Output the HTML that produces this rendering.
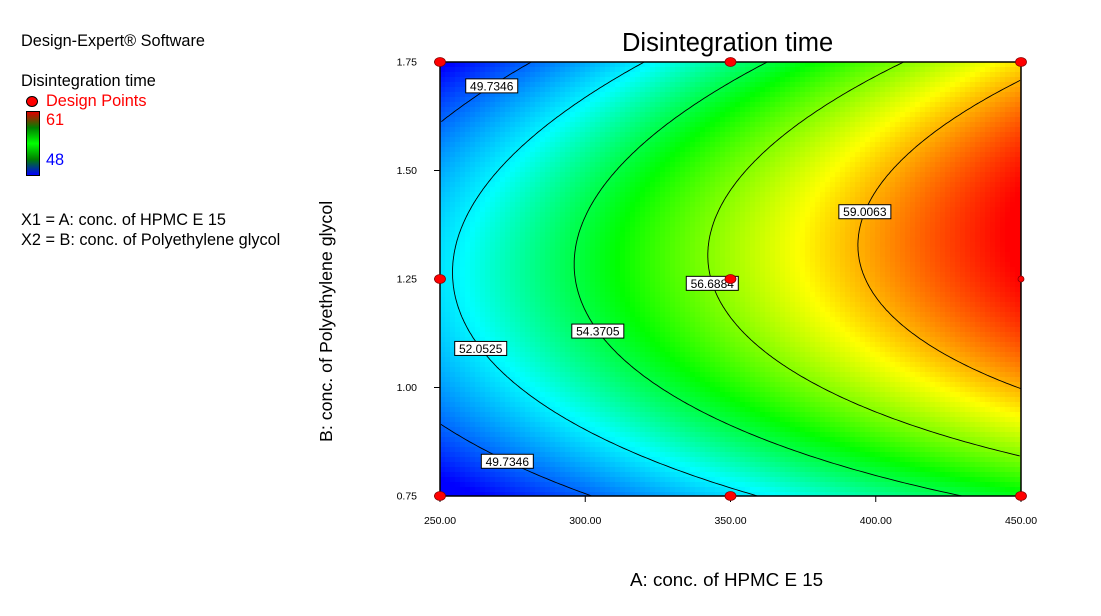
<!DOCTYPE html>
<html><head><meta charset="utf-8">
<style>
body{margin:0;background:#fff;font-family:"Liberation Sans",sans-serif;}
#wrap{position:relative;width:1101px;height:616px;overflow:hidden;}
.t{position:absolute;white-space:nowrap;color:#000;}
</style></head>
<body>
<div id="wrap">
<div class="t" style="left:21px;top:32px;font-size:16.3px;">Design-Expert® Software</div>
<div class="t" style="left:21px;top:72px;font-size:16.3px;">Disintegration time</div>
<div style="position:absolute;left:26px;top:96px;width:10px;height:9px;border-radius:50%;background:#f00;border:1px solid #000;"></div>
<div class="t" style="left:46px;top:92px;font-size:16.3px;color:#f00;">Design Points</div>
<div style="position:absolute;left:26px;top:111px;width:12px;height:63px;border:1px solid #000;background:linear-gradient(#e00000,#008000 25%,#00ff00 50%,#008000 75%,#0000ff);"></div>
<div class="t" style="left:46px;top:111px;font-size:16.3px;color:#f00;">61</div>
<div class="t" style="left:46px;top:151px;font-size:16.3px;color:#00f;">48</div>
<div class="t" style="left:21px;top:211px;font-size:16.3px;">X1 = A: conc. of HPMC E 15</div>
<div class="t" style="left:21px;top:231px;font-size:16.3px;">X2 = B: conc. of Polyethylene glycol</div>
<div class="t" style="left:622px;top:29px;font-size:25.5px;">Disintegration time</div>
<div class="t" style="left:630px;top:569px;font-size:18.8px;">A: conc. of HPMC E 15</div>
<div class="t" style="left:316px;top:442px;font-size:17.8px;transform-origin:0 0;transform:rotate(-90deg);">B: conc. of Polyethylene glycol</div>
<canvas id="cv" width="581" height="434" style="position:absolute;left:440px;top:62px;image-rendering:pixelated;"></canvas>
<svg id="sv" width="1101" height="616" style="position:absolute;left:0;top:0;"></svg>
</div>
<script>
const xTicks=[250,300,350,400,450];
const yTicks=[0.75,1.00,1.25,1.50,1.75];
const contourLevels=[49.7346,52.0525,54.3705,56.6884,59.0063];
const labelB=[1.695,1.09,1.13,1.24,1.405,0.83];
const labelLevelIdx=[0,1,2,3,4,0];
const pointsA=[250,250,250,350,350,350,450,450,450];
const pointsB=[0.75,1.25,1.75,0.75,1.25,1.75,0.75,1.25,1.75];
const coef=[57.0,4.6,-0.6,1.0,-4.3,0.77]; // a,b(x1),c(x1^2),d(x2),e(x2^2),g(x1x2)
const zMin=48,zMax=61;
const L=440,R=1021,T=62,B=496;
const sx=a=>L+(a-250)/200*(R-L);
const sy=b=>B-(b-0.75)/1.0*(B-T);
const f=(x1,x2)=>coef[0]+coef[1]*x1+coef[2]*x1*x1+coef[3]*x2+coef[4]*x2*x2+coef[5]*x1*x2;
function col(z){let t=Math.max(0,Math.min(1,(z-zMin)/(zMax-zMin)));
 const pos=[0,0.33,0.55,0.78,1];
 const st=[[0,0,255],[0,255,255],[0,255,0],[255,255,0],[255,0,0]];
 let i=0;while(i<3&&t>pos[i+1])i++;const u=(t-pos[i])/(pos[i+1]-pos[i]);
 return st[i].map((v,k)=>Math.round(v+(st[i+1][k]-v)*u));}
const cv=document.getElementById('cv'),ctx=cv.getContext('2d');
const cs=5;
for(let px=0;px<581;px+=cs)for(let py=0;py<434;py+=cs){
 const a=250+(px+cs/2)/581*200,b=1.75-(py+cs/2)/434;
 const c=col(f((a-350)/100,(b-1.25)/0.5));
 ctx.fillStyle=`rgb(${c[0]},${c[1]},${c[2]})`;ctx.fillRect(px,py,cs,cs);}
const NS='http://www.w3.org/2000/svg',sv=document.getElementById('sv');
function mk(t,at){const e=document.createElementNS(NS,t);for(const k in at)e.setAttribute(k,at[k]);sv.appendChild(e);return e;}
function solveX1(x2,lv){const A=coef[2],Bq=coef[1]+coef[5]*x2,C=coef[0]+coef[3]*x2+coef[4]*x2*x2-lv;
 const D=Bq*Bq-4*A*C;if(D<0)return null;const r1=(-Bq+Math.sqrt(D))/(2*A),r2=(-Bq-Math.sqrt(D))/(2*A);
 for(const r of [r1,r2])if(r>=-1.0001&&r<=1.0001)return r;return null;}
contourLevels.forEach((lv,i)=>{let d='',segs=[];let cur=[];
 for(let k=0;k<=400;k++){const x2=-1+k/200;const x1=solveX1(x2,lv);
  if(x1===null){if(cur.length)segs.push(cur);cur=[];continue;}
  cur.push([sx(350+x1*100),sy(1.25+x2*0.5)]);}
 if(cur.length)segs.push(cur);
 segs.forEach(s=>{d+='M'+s.map(p=>p[0].toFixed(1)+','+p[1].toFixed(1)).join('L');});
 const p=mk('path',{d:d,fill:'none',stroke:'#000','stroke-width':0.9});
 
 });
labelB.forEach((b,i)=>{const lv=contourLevels[labelLevelIdx[i]];const x1=solveX1((b-1.25)/0.5,lv);if(x1===null)return;
 const x=sx(350+x1*100),y=sy(b);const txt=lv.toFixed(4);
 const r=mk('rect',{x:x-26,y:y-7,width:52,height:14,fill:'#fff',stroke:'#000','stroke-width':1});
 
 
 const t=mk('text',{x:x,y:y+4.5,'text-anchor':'middle','font-size':12,'font-family':'Liberation Sans'});
 t.textContent=txt;
 
 });
const fr=mk('rect',{x:L,y:T,width:R-L,height:B-T,fill:'none',stroke:'#000','stroke-width':1.5});


xTicks.forEach(v=>{mk('line',{x1:sx(v),x2:sx(v),y1:B,y2:B+6,stroke:'#000'});
 const t=mk('text',{x:sx(v),y:B+28,'text-anchor':'middle','font-size':10.5,'font-family':'Liberation Sans'});t.textContent=v.toFixed(2);
 
 });
yTicks.forEach(v=>{mk('line',{x1:L-6,x2:L,y1:sy(v),y2:sy(v),stroke:'#000'});
 const t=mk('text',{x:L-23,y:sy(v)+3.5,'text-anchor':'end','font-size':10.5,'font-family':'Liberation Sans'});t.textContent=v.toFixed(2);
 
 });
pointsA.forEach((a,i)=>{const small=(a===450&&pointsB[i]===1.25);
 const e=mk('ellipse',{cx:sx(a),cy:sy(pointsB[i]),rx:small?3:5.5,ry:small?3:4.5,fill:'#f00',stroke:'#800','stroke-width':0.8});
 
 });
</script>
</body></html>
